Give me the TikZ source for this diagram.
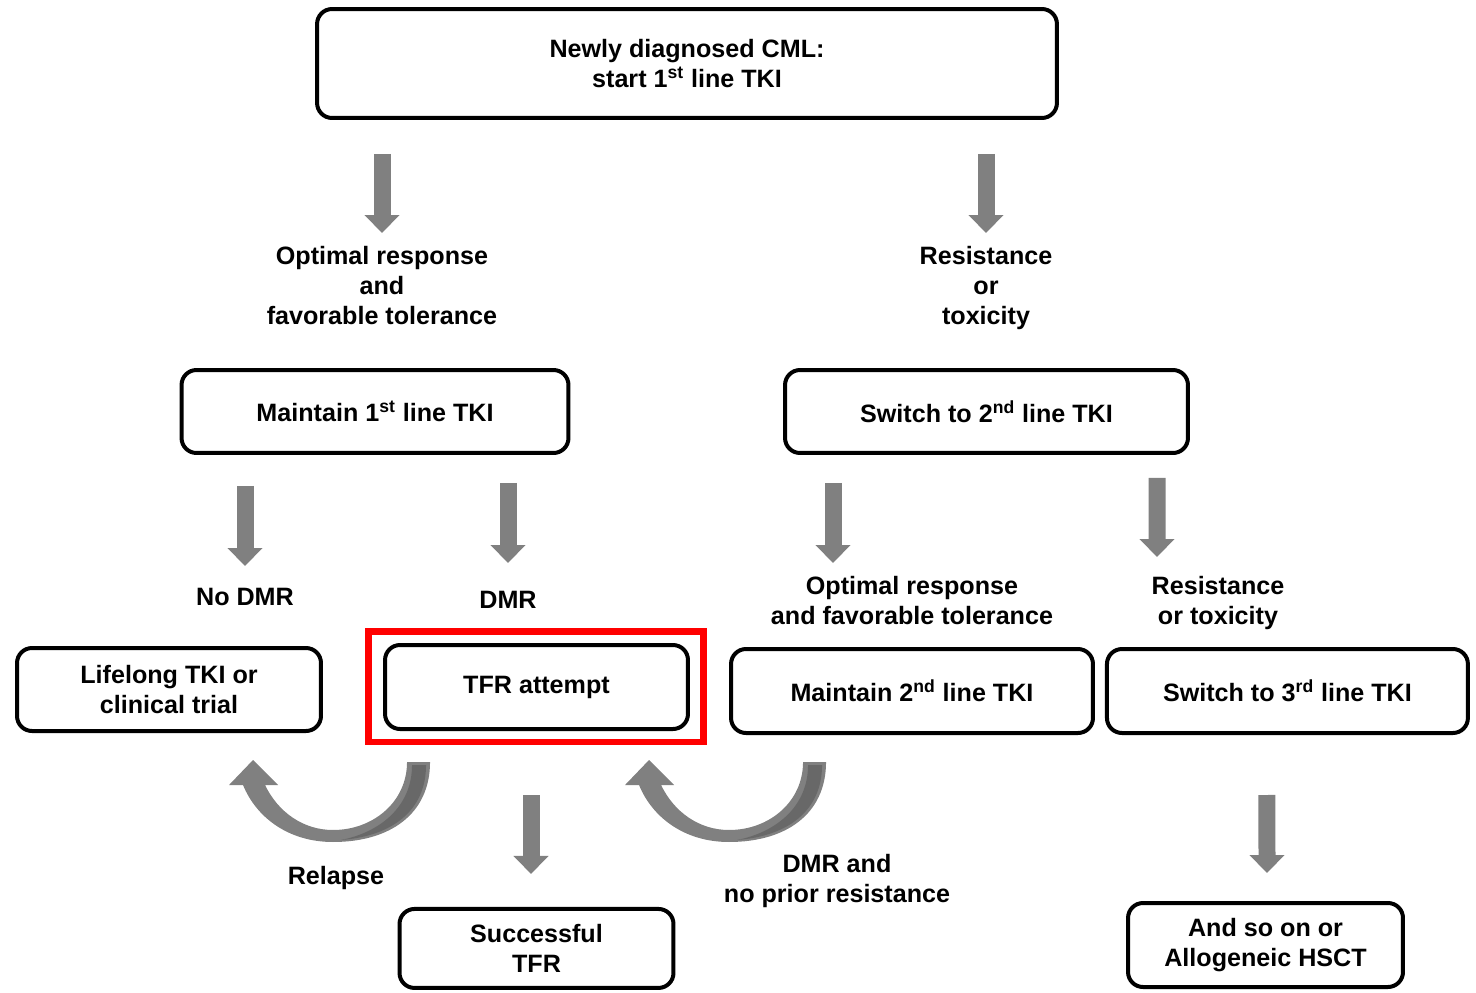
\documentclass[tikz,border=0pt]{standalone}
\usepackage{fontspec}
\setmainfont{Liberation Sans}
\usepackage{tikz}
\usetikzlibrary{arrows.meta,calc,positioning}
\definecolor{arrowgray}{RGB}{128,128,128}
\definecolor{arrowdark}{RGB}{104,104,104}
\tikzset{%
	box/.style    = {draw, rounded corners=0.3cm, line width=0.08cm, align=center, inner sep=0pt, font=\bfseries\fontsize{14.3}{17.1}\selectfont}, % Step
	lbl/.style    = {anchor=north, align=center, inner sep=0pt, font=\bfseries\fontsize{14.3}{17.1}\selectfont}, % Branch label
	fat/.style    = {draw=arrowgray, line width=0.34cm, -{Triangle[width=0.68cm,length=0.36cm]}}, % Block arrow
	hilite/.style = {draw=red, line width=0.14cm}, % Red frame
	uturn/.pic    = {% Curved block arrow
		\fill[arrowgray] (97,0) .. controls (97,52) and (57,80) .. (0,80) .. controls (-45,80) and (-77,55) .. (-90,23) -- (-104,23) -- (-80,-2) -- (-55,23) -- (-68,23) .. controls (-55,50) and (-30,68) .. (0,68) .. controls (40,68) and (74,40) .. (74,0) -- cycle;
		\fill[arrowdark] (93,3) .. controls (93,48) and (60,74) .. (8,78) .. controls (48,70) and (79,44) .. (79,3) -- cycle;
	},
}
\begin{document}
\begin{tikzpicture}[x=0.02cm, y=-0.02cm]
		\useasboundingbox (0,0) rectangle (1476,993);
		\node[box, minimum width=14.8cm, minimum height=2.18cm] (cml) at (687,63.5) {Newly diagnosed CML:\\start 1\textsuperscript{st} line TKI};
		\node[lbl] (opt) at (382,246) {Optimal response\\and\\favorable tolerance};
		\node[lbl] (res) at (986,246) {Resistance\\or\\toxicity};
		\node[box, minimum width=7.74cm, minimum height=1.66cm] (m1) at (375,411.5) {Maintain 1\textsuperscript{st} line TKI};
		\node[box, minimum width=8.06cm, minimum height=1.66cm] (s2) at (986.5,411.5) {Switch to 2\textsuperscript{nd} line TKI};
		\node[lbl] (nodmr) at (245,588) {No DMR};
		\node[lbl] (dmr) at (508,591) {DMR};
		\node[lbl] (opt2) at (912,576) {Optimal response\\and favorable tolerance};
		\node[lbl] (res2) at (1218,576) {Resistance\\or toxicity};
		\node[box, minimum width=6.08cm, minimum height=1.66cm] (life) at (169,689.5) {Lifelong TKI or\\clinical trial};
		\node[box, minimum width=6.06cm, minimum height=1.68cm] (tfr) at (536.5,687) {TFR attempt};
		\node[box, minimum width=7.24cm, minimum height=1.68cm] (m2) at (912,691) {Maintain 2\textsuperscript{nd} line TKI};
		\node[box, minimum width=7.22cm, minimum height=1.68cm, right of=m2, node distance=7.51cm] (s3) {Switch to 3\textsuperscript{rd} line TKI};
		\node[lbl] (relapse) at (336,866) {Relapse};
		\node[lbl] (dmrnp) at (837,854) {DMR and\\no prior resistance};
		\node[box, minimum width=5.48cm, minimum height=1.58cm, below of=tfr, node distance=5.23cm] (succ) {Successful\\TFR};
		\node[box, minimum width=5.5cm, minimum height=1.68cm] (soon) at (1265.5,945) {And so on or\\Allogeneic HSCT};
		\draw[hilite] ($(tfr.north west)+(-15,-12)$) rectangle ($(tfr.south east)+(14,11)$);
		\draw[fat] ($(cml.south -| opt.north)+(0,34)$) -- ($(opt.north)+(0,-13)$);
		\draw[fat] ($(cml.south -| res.north)+(0,34)$) -- ($(res.north)+(0,-13)$);
		\draw[fat] ($(m1.south -| nodmr.north)+(0,31)$) -- ($(nodmr.north)+(0,-22)$);
		\draw[fat] ($(m1.south -| dmr.north)+(0,28)$) -- ($(dmr.north)+(0,-28)$);
		\draw[fat] ($(s2.south)+(-153.5,28)$) -- ($(opt2.north)+(-79,-13)$);
		\draw[fat] ($(s2.south)+(170.5,23)$) -- ($(res2.north)+(-61,-19)$);
		\draw[fat] ($(tfr.south)+(-5.5,64)$) -- ($(succ.north)+(-5.5,-33)$);
		\draw[fat] ($(s3.south)+(-20.5,60)$) -- ($(soon.north)+(1.5,-28)$);
		\pic at ($(tfr.south west)+(-50,31)$) {uturn};
		\pic at ($(m2.south west)+(0,27)$) {uturn};
		\end{tikzpicture}
\end{document}
